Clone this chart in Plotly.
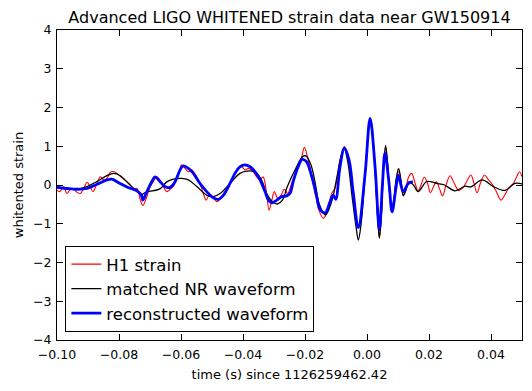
import plotly.graph_objects as go

# ---- data ----
h1_t = [-0.1000, -0.0991, -0.0978, -0.0968, -0.0955, -0.0945, -0.0935, -0.0925, -0.0914, -0.0903,
        -0.0893, -0.0884, -0.0871, -0.0860, -0.0849, -0.0839, -0.0828, -0.0815, -0.0801, -0.0785,
        -0.0769, -0.0753, -0.0742, -0.0731, -0.0723, -0.0712, -0.0699, -0.0689, -0.0678, -0.0668,
        -0.0657, -0.0646, -0.0635, -0.0625, -0.0609, -0.0598, -0.0587, -0.0576, -0.0565, -0.0555,
        -0.0539, -0.0528, -0.0519, -0.0509, -0.0498, -0.0485, -0.0472, -0.0458, -0.0442, -0.0426,
        -0.0415, -0.0404, -0.0394, -0.0381, -0.0367, -0.0356, -0.0345, -0.0335, -0.0324, -0.0316,
        -0.0308, -0.0299, -0.0288, -0.0277, -0.0267, -0.0256, -0.0243, -0.0227, -0.0213, -0.0202,
        -0.0191, -0.0178, -0.0165, -0.0155, -0.0141, -0.0129, -0.0114, -0.0103, -0.0094, -0.0084,
        -0.0073, -0.0065, -0.0055, -0.0044, -0.0035, -0.0028, -0.0019, -0.0006, 0.0004, 0.0010,
        0.0018, 0.0026, 0.0034, 0.0040, 0.0047, 0.0053, 0.0060, 0.0068, 0.0074, 0.0081,
        0.0087, 0.0094, 0.0103, 0.0110, 0.0117, 0.0126, 0.0135, 0.0144, 0.0155, 0.0165,
        0.0174, 0.0185, 0.0195, 0.0205, 0.0214, 0.0224, 0.0234, 0.0244, 0.0255, 0.0268,
        0.0281, 0.0295, 0.0306, 0.0319, 0.0335, 0.0345, 0.0355, 0.0366, 0.0379, 0.0390,
        0.0403, 0.0416, 0.0432, 0.0445, 0.0456, 0.0472, 0.0482, 0.0492, 0.0500]
h1_v = [-0.13, -0.17, -0.04, -0.22, -0.09, -0.12, -0.19, -0.22, -0.09, 0.07,
        -0.04, -0.17, 0.04, 0.21, 0.13, 0.17, 0.33, 0.34, 0.26, 0.15,
        0.04, -0.09, -0.09, -0.39, -0.53, -0.34, -0.04, 0.09, 0.21, 0.13,
        -0.04, -0.17, -0.11, -0.04, 0.26, 0.52, 0.43, 0.34, 0.39, 0.28,
        0.04, -0.22, -0.39, -0.26, -0.30, -0.43, -0.34, -0.17, 0.04, 0.30,
        0.43, 0.47, 0.39, 0.43, 0.34, 0.21, 0.13, 0.21, -0.22, -0.65,
        -0.43, -0.17, -0.34, -0.26, -0.11, -0.22, 0.04, 0.39, 0.65, 0.97,
        0.69, 0.21, -0.30, -0.65, -0.86, -0.70, -0.22, -0.08, 0.30, 0.75,
        0.99, 0.80, 0.50, -0.20, -0.85, -1.12, -0.80, 0.30, 1.40, 1.72,
        1.30, 0.40, -0.80, -1.35, -0.70, 0.40, 0.95, 0.40, -0.30, -0.65,
        -0.40, 0.10, 0.35, 0.05, -0.26, -0.05, 0.22, 0.30, 0.05, -0.15,
        0.00, 0.20, 0.05, -0.20, -0.05, 0.08, -0.10, -0.28, 0.00, 0.24,
        0.05, -0.14, -0.10, 0.05, 0.26, 0.05, -0.20, 0.05, 0.26, 0.15,
        0.03, -0.15, -0.39, -0.25, -0.09, 0.04, 0.20, 0.34, 0.22]

nr_t = [-0.1000, -0.0968, -0.0935, -0.0903, -0.0871, -0.0839, -0.0817, -0.0796, -0.0769, -0.0742,
        -0.0726, -0.0710, -0.0699, -0.0668, -0.0646, -0.0625, -0.0598, -0.0576, -0.0549, -0.0517,
        -0.0496, -0.0474, -0.0442, -0.0410, -0.0388, -0.0364, -0.0343, -0.0321, -0.0305, -0.0289,
        -0.0273, -0.0257, -0.0235, -0.0208, -0.0197, -0.0181, -0.0165, -0.0155, -0.0134, -0.0115,
        -0.0097, -0.0085, -0.0073, -0.0062, -0.0048, -0.0035, -0.0028, -0.0019, -0.0006, 0.0004,
        0.0010, 0.0018, 0.0026, 0.0034, 0.0040, 0.0047, 0.0053, 0.0060, 0.0067, 0.0074,
        0.0080, 0.0087, 0.0094, 0.0102, 0.0110, 0.0117, 0.0125, 0.0135, 0.0150, 0.0165,
        0.0193, 0.0225, 0.0250, 0.0284, 0.0317, 0.0335, 0.0371, 0.0408, 0.0445, 0.0477,
        0.0500]
nr_v = [-0.05, -0.08, -0.11, -0.04, 0.09, 0.24, 0.30, 0.24, 0.04, -0.17,
        -0.24, -0.17, -0.16, -0.10, 0.08, 0.15, 0.17, 0.13, -0.04, -0.26,
        -0.30, -0.22, 0.04, 0.30, 0.36, 0.35, 0.17, -0.26, -0.43, -0.49,
        -0.39, -0.04, 0.34, 0.73, 0.75, 0.52, -0.04, -0.47, -0.77, -0.45,
        0.20, 0.70, 0.92, 0.60, -0.30, -1.10, -1.42, -1.00, 0.30, 1.35,
        1.68, 1.30, 0.40, -0.80, -1.37, -0.70, 0.40, 1.02, 0.50, -0.30,
        -0.60, -0.35, 0.15, 0.42, 0.10, -0.28, -0.15, 0.08, 0.00, -0.17,
        0.09, 0.04, 0.00, -0.15, -0.03, -0.05, 0.13, -0.04, -0.14, 0.04,
        0.03]

rec_t = [-0.1000, -0.0968, -0.0935, -0.0903, -0.0871, -0.0839, -0.0823, -0.0797, -0.0769, -0.0742,
         -0.0728, -0.0723, -0.0710, -0.0694, -0.0684, -0.0668, -0.0652, -0.0635, -0.0619, -0.0603,
         -0.0593, -0.0576, -0.0560, -0.0539, -0.0517, -0.0496, -0.0480, -0.0463, -0.0442, -0.0426,
         -0.0410, -0.0394, -0.0377, -0.0361, -0.0345, -0.0329, -0.0318, -0.0307, -0.0291, -0.0275,
         -0.0259, -0.0248, -0.0238, -0.0222, -0.0209, -0.0195, -0.0178, -0.0162, -0.0152, -0.0135,
         -0.0120, -0.0109, -0.0101, -0.0087, -0.0073, -0.0058, -0.0044, -0.0028, -0.0006, 0.0010,
         0.0026, 0.0040, 0.0050, 0.0058, 0.0071, 0.0081, 0.0093, 0.0101, 0.0117, 0.0133,
         0.0148]
rec_v = [-0.06, -0.09, -0.11, -0.09, 0.02, 0.13, 0.15, 0.04, -0.07, -0.15,
         -0.26, -0.39, -0.17, 0.09, 0.21, 0.09, -0.04, -0.06, 0.09, 0.39,
         0.49, 0.43, 0.30, 0.04, -0.17, -0.33, -0.37, -0.26, 0.04, 0.30,
         0.47, 0.52, 0.47, 0.34, 0.13, -0.17, -0.39, -0.46, -0.39, -0.30,
         -0.28, -0.21, 0.09, 0.47, 0.66, 0.60, 0.21, -0.30, -0.62, -0.72,
         -0.45, -0.26, -0.37, 0.47, 0.95, 0.65, -0.22, -1.10, 0.30, 1.72,
         0.47, -1.15, 0.04, 0.82, 0.05, -0.69, -0.10, 0.25, -0.17, 0.04,
         0.09]

series_names = ["H1 strain", "matched NR waveform", "reconstructed waveform"]
x_ticks = [-0.10, -0.08, -0.06, -0.04, -0.02, 0.00, 0.02, 0.04]
y_ticks = [-4, -3, -2, -1, 0, 1, 2, 3, 4]

FONT = "DejaVu Sans"

fig = go.Figure()
fig.add_trace(go.Scatter(x=h1_t, y=h1_v, mode="lines", name=series_names[0],
                         line=dict(color="red", width=1.1, shape="spline", smoothing=1),
                         legendgroup="a"))
fig.add_trace(go.Scatter(x=nr_t, y=nr_v, mode="lines", name=series_names[1],
                         line=dict(color="black", width=1.3, shape="spline", smoothing=1),
                         legendgroup="b"))
fig.add_trace(go.Scatter(x=rec_t, y=rec_v, mode="lines", name=series_names[2],
                         line=dict(color="blue", width=2.8, shape="spline", smoothing=1),
                         legendgroup="c"))

axis_common = dict(showline=True, linecolor="black", linewidth=1, mirror="ticks",
                   ticks="inside", ticklen=6, tickcolor="black", showgrid=False,
                   zeroline=False, automargin=False,
                   tickfont=dict(family=FONT, size=12.5, color="black"))

fig.update_layout(
    width=532, height=391,
    margin=dict(l=57, r=10, t=30, b=51, autoexpand=False),
    paper_bgcolor="white", plot_bgcolor="white",
    font=dict(family=FONT, color="black"),
    title=dict(text="Advanced LIGO WHITENED strain data near GW150914",
               font=dict(family=FONT, size=16, color="black"),
               x=0.5, xanchor="center", xref="paper", y=0.955, yanchor="middle",
               automargin=False),
    xaxis=dict(range=[-0.1, 0.05], tickvals=x_ticks, tickformat=".2f",
               ticklabelstandoff=3,
               title=dict(text="time (s) since 1126259462.42",
                          font=dict(family=FONT, size=13, color="black"), standoff=8),
               **axis_common),
    yaxis=dict(range=[-4, 4], tickvals=y_ticks, ticklabelstandoff=2,
               title=dict(text="whitented strain",
                          font=dict(family=FONT, size=13, color="black"), standoff=6),
               **axis_common),
    showlegend=True,
    legend=dict(x=0.018, y=0.026, xanchor="left", yanchor="bottom",
                bgcolor="white", bordercolor="black", borderwidth=1,
                font=dict(family=FONT, size=16.5, color="black"),
                traceorder="grouped", tracegroupgap=0),
)

fig.write_html("out.html",
               config={"displayModeBar": False},
               post_script="document.body.style.margin='0';document.body.style.padding='0';")
